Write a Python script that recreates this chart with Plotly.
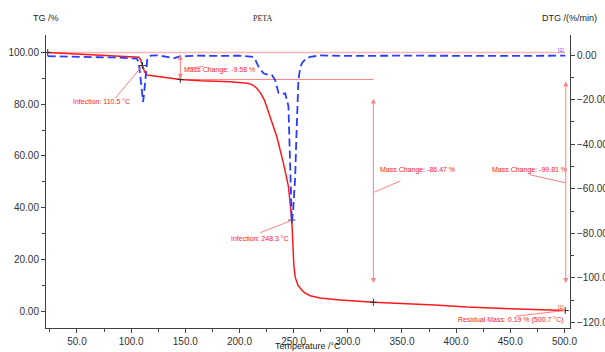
import plotly.graph_objects as go

# ---- data ----
temp_tg = [23, 50, 77, 95, 105.4, 107, 108.5, 110.5, 112.5, 114.6, 120, 145.4, 164, 191.5,
           207.5, 212, 216, 219.5, 223, 226.5, 230, 234.5, 240.6, 245.2, 248.3, 249.3,
           250.2, 251.5, 254, 257, 260, 265.2, 274.5, 290, 323.6, 380, 410, 450, 500.7]
tg = [100.0, 99.5, 99.0, 98.7, 98.4, 98.2, 97.4, 95.0, 92.5, 91.3, 91.0, 89.6, 89.1, 88.7,
      88.1, 87.5, 86.2, 84.3, 81.6, 77.5, 73.5, 67.4, 57.1, 48.1, 35.2, 27.0,
      17.5, 13.0, 10.0, 8.3, 7.1, 5.9, 5.0, 4.4, 3.4, 2.3, 1.5, 0.9, 0.19]

temp_dtg = [23, 40, 55, 70, 85, 100, 105, 107, 108.5, 110, 111, 112, 113.5, 115, 118, 125,
            133, 139, 145, 160, 180, 200, 212.6, 215, 217.5, 222.1, 226, 229.9, 232.9, 236,
            239, 242.2, 245.2, 246.3, 247.3, 248.3, 249.5, 250.5, 251.4, 252.3, 253, 254.4,
            256, 257.6, 261, 265.2, 274.5, 300, 350, 400, 450, 500.7]
dtg = [-0.5, -0.8, -0.9, -1.0, -1.1, -1.3, -1.6, -3, -9, -17, -21, -17, -8, -1.5, -0.3, -0.2,
       -0.8, -1.5, -0.6, -0.3, -0.4, -0.3, -0.8, -2.5, -5.2, -8.2, -8.8, -9.0, -11.2, -17,
       -17.5, -17.2, -23, -45, -65, -75, -70, -62, -55, -40, -30.5, -11.2,
       -6, -3.7, -1.8, -0.8, -0.2, -0.4, -0.3, -0.5, -0.4, -0.3]

# key points (temperature, TG)
key_t = [23, 110.5, 145.4, 248.3, 323.6, 500.7]
key_tg = [100.0, 95.0, 89.6, 35.2, 3.4, 0.19]

x_ticks = [50, 100, 150, 200, 250, 300, 350, 400, 450, 500]
tg_ticks = [0, 20, 40, 60, 80, 100]
dtg_ticks = [0, -20, -40, -60, -80, -100, -120]

RED = "#ff1a1a"
PINK = "#ff8080"
LPINK = "#ffb3b3"
BLUE = "#2a3cff"
AX = "#404040"
FONT = "Liberation Sans, Arial, sans-serif"

W, H = 605, 352
L, R, T, B = 46, 35, 35, 24

fig = go.Figure()

# reference line at 100 %
fig.add_trace(go.Scatter(x=[temp_tg[0], temp_tg[-1]], y=[100, 100], mode="lines",
                         line=dict(color=LPINK, width=1.5), hoverinfo="skip"))
# level line at first step
fig.add_trace(go.Scatter(x=[key_t[2], key_t[4]], y=[key_tg[2], key_tg[2]], mode="lines",
                         line=dict(color=PINK, width=1), hoverinfo="skip"))

fig.add_trace(go.Scatter(x=temp_dtg, y=dtg, mode="lines", yaxis="y2",
                         line=dict(color=BLUE, width=1.8, dash="8px,4px")))
fig.add_trace(go.Scatter(x=temp_tg, y=tg, mode="lines",
                         line=dict(color=RED, width=1.5)))
fig.add_trace(go.Scatter(x=key_t, y=key_tg, mode="markers",
                         marker=dict(symbol="cross-thin", size=5,
                                     line=dict(color="#303030", width=1))))

ann_font = dict(family=FONT, size=7, color=RED)

def text(x, y, s):
    fig.add_annotation(x=x, y=y, xref="x", yref="y", text=s, showarrow=False,
                       font=ann_font, xanchor="center", yanchor="middle")

def seg(x0, y0, x1, y1, color=PINK):
    fig.add_shape(type="line", x0=x0, y0=y0, x1=x1, y1=y1, xref="x", yref="y",
                  line=dict(color=color, width=1))

def darrow(x, y0, y1):
    fig.add_annotation(x=x, y=y1, ax=x, ay=y0, xref="x", yref="y", axref="x", ayref="y",
                       text="", showarrow=True, arrowhead=2, arrowside="end+start",
                       arrowsize=1, arrowwidth=1, arrowcolor=PINK)

def ptext(px, py, s, font):
    fig.add_annotation(x=(px - L) / (W - L - R), y=1 - (py - T) / (H - T - B),
                       xref="paper", yref="paper", text=s, showarrow=False,
                       xanchor="center", yanchor="middle", font=font)

text(73, 80.9, "Infection: 110.5 °C")
seg(85.4, 82.4, 110.5, 95.0)

text(182, 93.2, "Mass Change: -9.58 %")
seg(152, 94.0, 167, 94.6)
darrow(145.4, 99.7, 89.9)

text(218.5, 28.2, "Infection: 248.3 °C")
seg(219.3, 30.3, 247.8, 35.0)

text(364, 54.5, "Mass Change: -86.47 %")
seg(324.5, 46.0, 348.5, 50.3)
darrow(323.6, 82.8, 10.8)

text(467.6, 54.5, "Mass Change: -99.81 %")
seg(467.2, 52.8, 501.2, 49.6)
darrow(501.2, 89.4, 10.8)

text(450.4, -3.5, "Residual Mass: 0.19 % (500.7 °C)")
seg(455, -2.0, 500.5, 0.2)

fig.add_annotation(x=496.5, y=1.6, xref="x", yref="y", text="[1]", showarrow=False,
                   font=dict(family=FONT, size=5, color=RED))
fig.add_annotation(x=496.5, y=100.9, xref="x", yref="y", text="[1]", showarrow=False,
                   font=dict(family=FONT, size=5, color=BLUE))

# titles
ptext(45.5, 18, "TG /%", dict(family=FONT, size=9, color="#222"))
ptext(263, 18, "PETA", dict(family="Liberation Serif, serif", size=8, color="#222"))
ptext(569, 18, "DTG /(%/min)", dict(family=FONT, size=9, color="#222"))
ptext(308, 346, "Temperature /°C", dict(family=FONT, size=9, color="#222"))

tickfont = dict(family=FONT, size=10, color="#333")
common = dict(showgrid=False, zeroline=False, showline=True, linecolor=AX, linewidth=1,
              ticks="outside", ticklen=4, tickcolor=AX, tickfont=tickfont,
              automargin=False)
fig.update_layout(
    width=W, height=H, margin=dict(l=L, r=R, t=T, b=B, autoexpand=False),
    paper_bgcolor="white", plot_bgcolor="white", showlegend=False,
    xaxis=dict(range=[21.4, 505.1], tickvals=x_ticks, tickformat=".1f",
               minor=dict(dtick=25, tick0=0, ticks="outside", ticklen=3, tickcolor=AX),
               **common),
    yaxis=dict(range=[-6.58, 106.8], tickvals=tg_ticks, tickformat=".2f",
               minor=dict(dtick=10, tick0=0, ticks="outside", ticklen=3, tickcolor=AX),
               **common),
    yaxis2=dict(range=[-122.5, 8.98], tickvals=dtg_ticks, tickformat=".2f",
                overlaying="y", side="right", anchor="x",
                minor=dict(dtick=10, tick0=0, ticks="outside", ticklen=3, tickcolor=AX),
                **common),
)

fig.write_html("out.html")
